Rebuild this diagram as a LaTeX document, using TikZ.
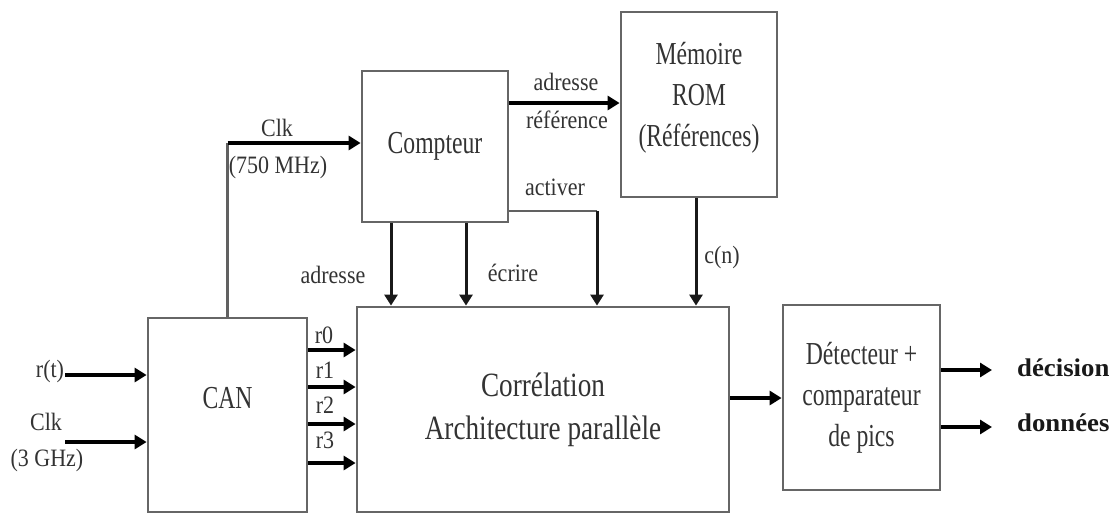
\documentclass[tikz,border=0pt]{standalone}
\usepackage{fontspec}
\setmainfont{Liberation Serif}
\newfontfamily\boxfont[FakeStretch=0.74]{Liberation Serif}
\newfontfamily\corrfont[FakeStretch=0.8]{Liberation Serif}
\newfontfamily\lblfont[FakeStretch=0.88]{Liberation Serif}
\newfontfamily\outfont[FakeStretch=1.05]{Liberation Serif Bold}
\usetikzlibrary{arrows.meta}
\begin{document}
\begin{tikzpicture}[x=1pt,y=-1pt,
  blk/.style={draw=black!60, line width=2.8pt, inner sep=0pt, align=center, text=black!80,
    font=\boxfont\fontsize{32}{41}\selectfont},
  btxt/.style={inner sep=0pt, align=center, text=black!80, font=\boxfont\fontsize{32}{41}\selectfont},
  arr/.style={draw=black, line width=4.2pt, -{Triangle[length=12pt,width=14pt]}},
  varr/.style={draw=black!90, line width=3pt, -{Triangle[length=11pt,width=13pt]}},
  wire/.style={draw=black!62, line width=2.2pt},
  lbl/.style={inner sep=0pt, text=black!80, font=\lblfont\fontsize{25}{28}\selectfont},
  outl/.style={inner sep=0pt, text=black!90, font=\outfont\fontsize{25.5}{28}\selectfont}]
\useasboundingbox (0,0) rectangle (1120,515);

% blocks
\node[blk, minimum width=159pt, minimum height=194pt] (can) at (227.5,415) {};
\node[btxt] (cant) at ([yshift=17pt]can.center) {CAN};
\node[blk, minimum width=372pt, minimum height=205pt, font=\corrfont\fontsize{34}{43}\selectfont] (corr) at (543,409.5) {Corrélation\\Architecture parallèle};
\node[blk, minimum width=146pt, minimum height=151pt] (comp) at (435,146.5) {Compteur};
\node[blk, minimum width=156pt, minimum height=185pt] (mem) at (699,104.5) {};
\node[btxt] (memt) at ([yshift=7pt]mem.center) {Mémoire\\ROM\\(Références)};
\node[blk, minimum width=157pt, minimum height=185pt] (det) at (861.5,397.5) {Détecteur +\\comparateur\\de pics};

% inputs
\coordinate (rts) at (65,375);
\coordinate (clks) at (65,442);
\draw[arr] (rts) -- (rts -| can.west);
\draw[arr] (clks) -- (clks -| can.west);
\node[lbl] (rt) at (50,371) {r(t)};
\node[lbl] (clka) at (46,422) {Clk};
\node[lbl] (clkb) at (47,460) {(3 GHz)};

% CAN outputs
\foreach \yy in {350,387,424,463}{
  \draw[arr] (can.east |- 0,\yy) -- (corr.west |- 0,\yy);
}
\node[lbl] (lr0) at (324,335) {r0};
\node[lbl] (lr1) at (325,370) {r1};
\node[lbl] (lr2) at (325,405) {r2};
\node[lbl] (lr3) at (325,440) {r3};

% Clk 750 MHz
\coordinate (clkc) at (can.north |- 0,143);
\draw[wire] (can.north) -- (clkc);
\draw[arr] (clkc) -- (comp.west |- clkc);
\node[lbl] (clkc1) at (277,128) {Clk};
\node[lbl] (clkc2) at (278,167) {(750 MHz)};

% Compteur -> Memoire
\draw[arr] (comp.east |- 0,103) -- (mem.west |- 0,103);
\node[lbl] (adr1) at (566,82) {adresse};
\node[lbl] (ref1) at (567,120) {référence};

% activer
\coordinate (actc) at (597,211);
\draw[wire] (comp.east |- actc) -- (actc);
\draw[varr] (actc) -- (corr.north -| actc);
\node[lbl] (act) at (555,187) {activer};

% adresse / ecrire
\draw[varr] (comp.south -| 391,0) -- (corr.north -| 391,0);
\draw[varr] (comp.south -| 466,0) -- (corr.north -| 466,0);
\node[lbl] (adr2) at (333,275) {adresse};
\node[lbl] (ecr) at (513,273) {écrire};

% c(n)
\draw[varr] (mem.south -| 696,0) -- (corr.north -| 696,0);
\node[lbl] (cn) at (722,257) {c(n)};

% correlation -> detecteur
\draw[arr] (corr.east |- 0,398) -- (det.west |- 0,398);

% outputs
\coordinate (dece) at (992,370);
\coordinate (done) at (992,427);
\draw[arr] (det.east |- dece) -- (dece);
\draw[arr] (det.east |- done) -- (done);
\node[outl, anchor=west] (dec) at (1017,368) {décision};
\node[outl, anchor=west] (don) at (1017,423) {données};
\end{tikzpicture}
\end{document}
